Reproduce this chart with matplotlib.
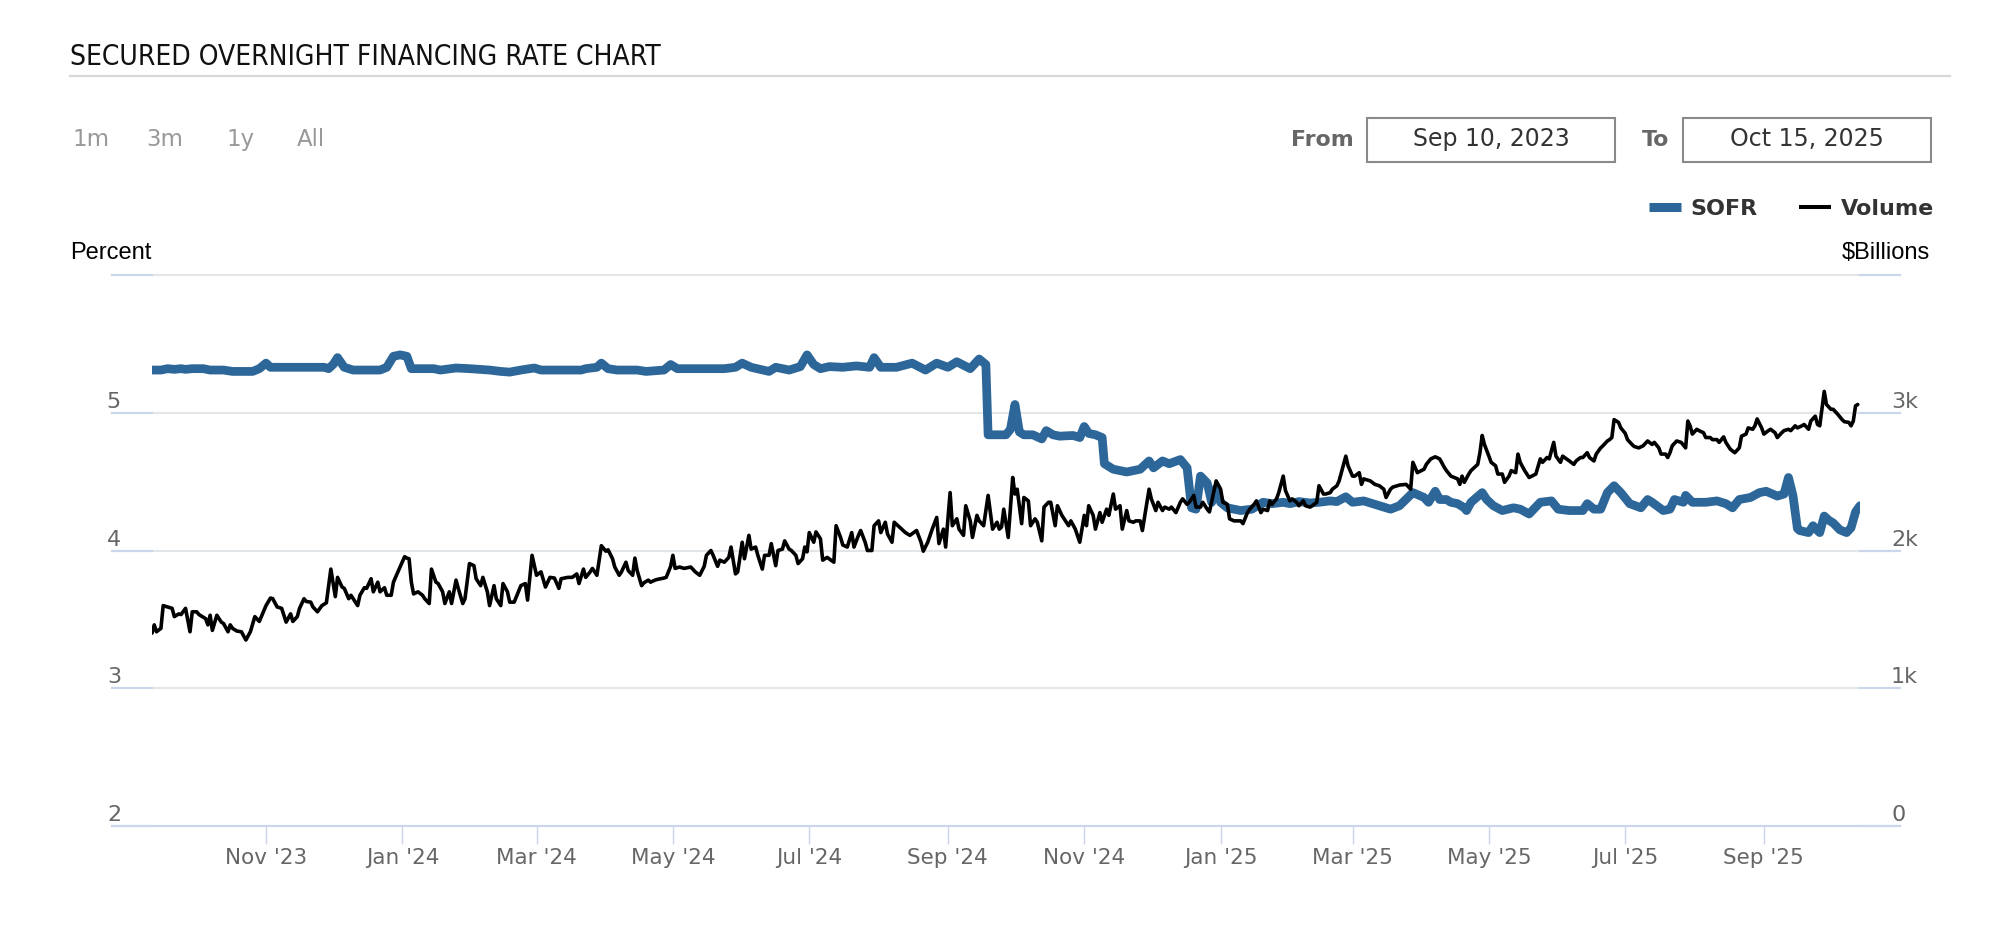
import datetime as dt
import matplotlib
matplotlib.use("Agg")
import matplotlib.pyplot as plt
import matplotlib.dates as mdates
from matplotlib import font_manager
from matplotlib.lines import Line2D
from matplotlib.patches import Rectangle
from matplotlib.transforms import offset_copy

# ---------------- data ----------------
start_date = dt.datetime(2023, 9, 11)
end_offset = 764  # days shown after start_date

title_text = "SECURED OVERNIGHT FINANCING RATE CHART"
range_buttons = ["1m", "3m", "1y", "All"]
from_date = "Sep 10, 2023"
to_date = "Oct 15, 2025"
series_names = ["SOFR", "Volume"]
left_unit = "Percent"
right_unit = "$Billions"

left_ticks = [2, 3, 4, 5]
left_tick_labels = ["2", "3", "4", "5"]
left_grid = [2, 3, 4, 5, 6]
right_ticks = [0, 1000, 2000, 3000]
right_tick_labels = ["0", "1k", "2k", "3k"]

# SOFR (percent): day offset from start_date, value
sofr_day = [0, 4, 7, 10, 13, 15, 18, 23, 26, 32, 36, 45, 48, 51, 53, 62, 77, 79, 81, 83,
            86, 90, 102, 105, 108, 111, 114, 116, 126, 129, 136, 142, 151, 156, 160, 165,
            171, 174, 192, 194, 199, 201, 204, 208, 217, 221, 229, 232, 235, 256, 261, 264,
            268, 276, 279, 282, 285, 290, 293, 296, 299, 303, 309, 315, 321, 323, 326, 333,
            340, 346, 351, 356, 360, 366, 370, 373, 374, 379, 382, 384, 386, 388, 390, 394,
            398, 400, 403, 406, 412, 415, 417, 419, 422, 425, 426, 430, 436, 442, 446, 448,
            452, 455, 460, 463, 465, 467, 469, 472, 474, 476, 478, 481, 484, 487, 492, 497,
            501, 506, 509, 513, 518, 522, 527, 530, 534, 537, 542, 549, 554, 558, 564, 569,
            571, 574, 576, 579, 581, 584, 587, 588, 590, 595, 597, 600, 604, 609, 612, 616,
            621, 626, 629, 634, 640, 642, 645, 648, 651, 654, 657, 661, 666, 669, 671, 676,
            679, 681, 685, 686, 689, 695, 700, 704, 707, 710, 715, 719, 722, 727, 730, 732,
            734, 736, 737, 741, 743, 744, 746, 748, 750, 752, 755, 758, 760, 762, 764]
sofr_pct = [5.31, 5.31, 5.32, 5.315, 5.32, 5.315, 5.32, 5.32, 5.31, 5.31, 5.30, 5.30, 5.32,
            5.36, 5.33, 5.33, 5.33, 5.32, 5.35, 5.40, 5.33, 5.31, 5.31, 5.33, 5.41, 5.42,
            5.41, 5.32, 5.32, 5.31, 5.325, 5.32, 5.31, 5.30, 5.295, 5.31, 5.325, 5.31, 5.31,
            5.32, 5.33, 5.36, 5.32, 5.31, 5.31, 5.30, 5.31, 5.35, 5.32, 5.32, 5.33, 5.36,
            5.33, 5.30, 5.33, 5.32, 5.31, 5.335, 5.42, 5.35, 5.32, 5.335, 5.33, 5.34, 5.33,
            5.40, 5.33, 5.33, 5.36, 5.31, 5.36, 5.33, 5.37, 5.32, 5.39, 5.35, 4.84, 4.84,
            4.84, 4.88, 5.06, 4.86, 4.84, 4.84, 4.81, 4.87, 4.84, 4.83, 4.835, 4.82, 4.90,
            4.85, 4.84, 4.82, 4.63, 4.59, 4.57, 4.59, 4.65, 4.60, 4.65, 4.63, 4.66, 4.60,
            4.31, 4.30, 4.54, 4.49, 4.35, 4.45, 4.35, 4.31, 4.30, 4.29, 4.30, 4.35, 4.34,
            4.35, 4.34, 4.355, 4.345, 4.35, 4.36, 4.355, 4.39, 4.35, 4.36, 4.325, 4.30,
            4.325, 4.42, 4.385, 4.35, 4.43, 4.37, 4.37, 4.35, 4.34, 4.31, 4.29, 4.35, 4.42,
            4.37, 4.325, 4.29, 4.31, 4.30, 4.265, 4.35, 4.36, 4.30, 4.29, 4.29, 4.34, 4.30,
            4.30, 4.42, 4.47, 4.42, 4.34, 4.31, 4.37, 4.35, 4.29, 4.30, 4.37, 4.35, 4.40,
            4.35, 4.35, 4.36, 4.34, 4.31, 4.37, 4.385, 4.42, 4.43, 4.395, 4.41, 4.53, 4.40,
            4.16, 4.145, 4.13, 4.18, 4.16, 4.13, 4.25, 4.22, 4.20, 4.15, 4.13, 4.165, 4.28,
            4.325]

# Volume ($ billions): day offset from start_date, value
vol_day = [0, 1, 2, 4, 5, 7, 9, 10, 12, 13, 15, 17, 18, 20, 21, 24, 25, 26, 27, 29, 31, 32,
           34, 35, 36, 38, 40, 42, 44, 46, 48, 51, 53, 54, 56, 58, 60, 62, 63, 65, 66, 68,
           69, 71, 72, 74, 76, 78, 80, 82, 83, 85, 86, 88, 89, 92, 93, 95, 96, 98, 99, 101,
           102, 104, 105, 107, 108, 110, 113, 114, 115, 116, 117, 119, 121, 122, 124, 125,
           127, 128, 130, 131, 133, 134, 136, 137, 139, 140, 142, 144, 145, 147, 148, 150,
           151, 153, 154, 156, 157, 159, 160, 162, 165, 167, 168, 170, 172, 174, 176, 178,
           180, 182, 183, 186, 188, 190, 191, 193, 194, 196, 197, 199, 201, 203, 204, 206,
           207, 209, 210, 212, 213, 215, 216, 217, 219, 220, 222, 223, 225, 226, 229, 230,
           232, 233, 234, 236, 238, 241, 243, 245, 247, 248, 250, 251, 253, 254, 256, 258,
           259, 261, 262, 264, 265, 267, 268, 270, 271, 273, 274, 276, 277, 279, 280, 282,
           283, 285, 286, 288, 289, 291, 292, 293, 294, 296, 297, 299, 300, 302, 305, 306,
           308, 309, 311, 313, 314, 316, 317, 319, 320, 322, 323, 325, 326, 328, 329, 331,
           332, 334, 337, 339, 342, 344, 345, 347, 349, 351, 352, 354, 355, 357, 358, 360,
           361, 363, 364, 366, 367, 369, 370, 372, 374, 376, 378, 379, 380, 381, 383, 385,
           386, 387, 389, 390, 392, 393, 395, 396, 398, 399, 401, 402, 404, 405, 407, 408,
           410, 411, 413, 415, 417, 418, 419, 421, 422, 424, 425, 427, 428, 430, 431, 433,
           434, 436, 437, 439, 440, 442, 443, 446, 447, 449, 450, 452, 453, 455, 456, 458,
           460, 461, 463, 464, 466, 467, 469, 470, 472, 473, 476, 478, 479, 481, 482, 484,
           485, 487, 488, 490, 491, 493, 494, 496, 497, 499, 500, 501, 503, 504, 506, 507,
           509, 510, 512, 513, 515, 516, 518, 519, 521, 522, 524, 525, 527, 528, 530, 531,
           534, 535, 537, 538, 540, 541, 542, 545, 547, 549, 551, 552, 554, 555, 558, 561,
           563, 564, 566, 569, 570, 572, 574, 576, 578, 579, 581, 584, 585, 586, 587, 589,
           590, 593, 594, 595, 596, 598, 599, 601, 602, 604, 605, 607, 608, 610, 611, 612,
           614, 616, 619, 621, 622, 624, 625, 627, 628, 630, 631, 634, 636, 637, 639, 640,
           642, 643, 645, 646, 648, 649, 651, 652, 653, 654, 656, 657, 659, 660, 662, 663,
           665, 667, 669, 671, 672, 674, 675, 677, 678, 679, 680, 682, 684, 686, 687, 688,
           689, 691, 692, 694, 695, 697, 698, 700, 701, 703, 704, 706, 708, 710, 711, 713,
           714, 716, 717, 718, 720, 721, 723, 724, 726, 727, 729, 730, 732, 733, 735, 736,
           738, 739, 741, 742, 744, 745, 746, 748, 749, 751, 752, 754, 756, 757, 759, 760,
           761, 762, 763]
vol_bn = [1400, 1460, 1410, 1435, 1600, 1590, 1580, 1520, 1540, 1535, 1580, 1410, 1555, 1555,
          1535, 1505, 1460, 1530, 1420, 1530, 1480, 1470, 1410, 1460, 1435, 1415, 1410, 1350,
          1410, 1520, 1485, 1600, 1655, 1650, 1590, 1580, 1480, 1540, 1485, 1520, 1580, 1650,
          1630, 1625, 1590, 1555, 1600, 1620, 1865, 1665, 1805, 1735, 1725, 1650, 1675, 1600,
          1675, 1730, 1725, 1795, 1700, 1770, 1700, 1730, 1675, 1675, 1770, 1845, 1955, 1945,
          1940, 1770, 1685, 1700, 1675, 1650, 1615, 1865, 1770, 1760, 1700, 1615, 1700, 1615,
          1785, 1725, 1615, 1650, 1905, 1890, 1795, 1745, 1805, 1700, 1600, 1745, 1650, 1600,
          1760, 1700, 1625, 1625, 1745, 1760, 1640, 1965, 1820, 1845, 1735, 1805, 1800, 1725,
          1795, 1805, 1805, 1830, 1760, 1865, 1805, 1845, 1870, 1820, 2035, 1995, 2005, 1940,
          1880, 1820, 1845, 1915, 1855, 1820, 1945, 1855, 1745, 1765, 1785, 1770, 1785, 1790,
          1800, 1805, 1885, 1965, 1870, 1880, 1870, 1880, 1845, 1820, 1885, 1965, 2000, 1965,
          1885, 1930, 1915, 1950, 2025, 1830, 1845, 2060, 1940, 2110, 2010, 2025, 1965, 1865,
          1965, 1965, 2050, 1890, 2000, 2010, 2070, 2010, 2000, 1965, 1905, 1940, 2025, 1990,
          2130, 2060, 2135, 2085, 1930, 1950, 1915, 2180, 2095, 2040, 2025, 2130, 2025, 2110,
          2145, 2060, 2000, 2000, 2180, 2215, 2130, 2205, 2120, 2060, 2205, 2175, 2130, 2110,
          2145, 2060, 1995, 2060, 2155, 2240, 2050, 2155, 2025, 2420, 2180, 2230, 2155, 2110,
          2325, 2215, 2095, 2255, 2215, 2180, 2400, 2155, 2205, 2155, 2170, 2300, 2095, 2530,
          2410, 2445, 2195, 2385, 2360, 2180, 2230, 2205, 2070, 2315, 2350, 2350, 2180, 2325,
          2255, 2230, 2180, 2215, 2155, 2060, 2255, 2180, 2325, 2255, 2155, 2275, 2205, 2300,
          2255, 2410, 2300, 2325, 2155, 2290, 2215, 2205, 2215, 2215, 2145, 2445, 2375, 2290,
          2350, 2290, 2315, 2300, 2315, 2275, 2350, 2375, 2335, 2350, 2400, 2315, 2315, 2350,
          2300, 2280, 2505, 2445, 2350, 2335, 2230, 2215, 2215, 2215, 2195, 2275, 2300, 2335,
          2360, 2275, 2300, 2290, 2360, 2335, 2375, 2420, 2540, 2435, 2360, 2375, 2350, 2325,
          2360, 2325, 2315, 2325, 2350, 2470, 2410, 2410, 2420, 2445, 2470, 2505, 2685, 2615,
          2540, 2540, 2565, 2480, 2520, 2505, 2480, 2470, 2445, 2385, 2445, 2460, 2475, 2480,
          2445, 2640, 2565, 2590, 2625, 2665, 2680, 2665, 2605, 2580, 2540, 2520, 2480, 2540,
          2495, 2555, 2580, 2625, 2710, 2835, 2770, 2685, 2640, 2615, 2555, 2555, 2495, 2540,
          2580, 2565, 2700, 2640, 2580, 2530, 2555, 2665, 2640, 2675, 2665, 2785, 2685, 2640,
          2685, 2650, 2625, 2650, 2675, 2675, 2710, 2675, 2650, 2700, 2745, 2760, 2795, 2805,
          2820, 2950, 2930, 2890, 2850, 2805, 2770, 2755, 2745, 2760, 2795, 2770, 2785, 2745,
          2700, 2700, 2675, 2710, 2760, 2795, 2785, 2745, 2940, 2905, 2845, 2880, 2870, 2855,
          2820, 2820, 2805, 2805, 2785, 2825, 2785, 2735, 2710, 2745, 2830, 2845, 2890, 2880,
          2905, 2955, 2890, 2845, 2870, 2880, 2855, 2820, 2855, 2870, 2880, 2870, 2905, 2890,
          2905, 2915, 2880, 2940, 2975, 2915, 2905, 3155, 3060, 3025, 3025, 2990, 2950, 2935,
          2930, 2905, 2940, 3050, 3060]

# ---------------- styling / layout ----------------
W, H = 1992, 943
SOFR_COLOR = "#2d6799"
GRID_COLOR = "#e3e6e9"
TICK_COLOR = "#ccd6eb"
LABEL_GRAY = "#666666"


def fx(px):
    return px / W


def fy(py):
    return 1 - py / H


def has_font(name):
    try:
        font_manager.findfont(name, fallback_to_default=False)
        return True
    except Exception:
        return False


arial_like = "Liberation Sans" if has_font("Liberation Sans") else "DejaVu Sans"
narrow = None
for cand in ["Liberation Sans Narrow", "DejaVu Sans Condensed"]:
    if has_font(cand):
        narrow = cand
        break

plt.rcParams["font.family"] = ["DejaVu Sans"]

fig = plt.figure(figsize=(W / 100, H / 100), dpi=100, facecolor="white")

PL, PR, PT, PB = 152, 1860, 275, 826
ax = fig.add_axes([fx(PL), fy(PB), (PR - PL) / W, (PB - PT) / H])
ax.set_facecolor("none")
ax2 = ax.twinx()

sofr_x = [start_date + dt.timedelta(days=d) for d in sofr_day]
vol_x = [start_date + dt.timedelta(days=d) for d in vol_day]

ax.plot(sofr_x, sofr_pct, color=SOFR_COLOR, lw=6.3, solid_joinstyle="round",
        solid_capstyle="round", zorder=3)
ax2.plot(vol_x, vol_bn, color="black", lw=2.6, solid_joinstyle="round",
         solid_capstyle="round", zorder=3)

ax.set_xlim(start_date, start_date + dt.timedelta(days=end_offset))
ax.set_ylim(left_grid[0], left_grid[-1])
ax2.set_ylim(0, 4000)

for a in (ax, ax2):
    for s in a.spines.values():
        s.set_visible(False)
    a.set_yticks([])

ext = 40 / (PR - PL)
for v in left_grid:
    ax.axhline(v, xmin=-ext, xmax=1 + ext, color=GRID_COLOR, lw=1.5, clip_on=False, zorder=1)
    ax.axhline(v, xmin=-ext, xmax=0, color=TICK_COLOR, lw=1.5, clip_on=False, zorder=1.1)
    ax.axhline(v, xmin=1, xmax=1 + ext, color=TICK_COLOR, lw=1.5, clip_on=False, zorder=1.1)
ax.axhline(left_grid[0], xmin=-ext, xmax=1 + ext, color=TICK_COLOR, lw=1.5,
           clip_on=False, zorder=1.2)

ltrans = offset_copy(ax.get_yaxis_transform(), fig=fig, x=0, y=5, units="dots")
for v, s in zip(left_ticks, left_tick_labels):
    ax.text(-31 / (PR - PL), v, s, transform=ltrans, ha="right", va="baseline",
            fontsize=16, color=LABEL_GRAY)
rtrans = offset_copy(ax2.get_yaxis_transform(), fig=fig, x=0, y=5, units="dots")
for v, s in zip(right_ticks, right_tick_labels):
    ax2.text(1 + 31 / (PR - PL), v, s, transform=rtrans, ha="left", va="baseline",
             fontsize=16, color=LABEL_GRAY)

ax.xaxis.set_major_locator(mdates.MonthLocator(bymonth=[1, 3, 5, 7, 9, 11]))
ax.xaxis.set_major_formatter(mdates.DateFormatter("%b '%y"))
ax.tick_params(axis="x", length=13, width=1.0, color=TICK_COLOR, pad=3,
               labelsize=15.5, labelcolor=LABEL_GRAY, direction="out")

# ---------------- header ----------------
if narrow:
    title = fig.text(fx(70), fy(65), title_text, fontsize=23, family=narrow,
                     color="#111111", va="baseline")
else:
    title = fig.text(fx(70), fy(65), title_text, fontsize=23, color="#111111",
                     va="baseline", fontstretch="condensed")
fig.canvas.draw()
tw = title.get_window_extent().width
title.set_fontsize(23 * 594 / tw)

fig.add_artist(Line2D([fx(70), fx(1950)], [fy(76), fy(76)], color="#d9d9d9", lw=1.6))

for lbl, xp in zip(range_buttons, [72, 146, 226, 297]):
    fig.text(fx(xp), fy(146), lbl, fontsize=16.5, color="#999999", va="baseline")

fig.text(fx(1354), fy(146), "From", ha="right", va="baseline", fontsize=15.8,
         weight="bold", color=LABEL_GRAY)
fig.add_artist(Rectangle((fx(1367), fy(162)), (1615 - 1367) / W, (162 - 118) / H,
                         fill=False, ec="#8a8a8a", lw=1.5, transform=fig.transFigure))
fig.text(fx(1491), fy(146), from_date, ha="center", va="baseline", fontsize=17,
         color="#333333")
fig.text(fx(1669), fy(146), "To", ha="right", va="baseline", fontsize=15.8,
         weight="bold", color=LABEL_GRAY)
fig.add_artist(Rectangle((fx(1683), fy(162)), (1931 - 1683) / W, (162 - 118) / H,
                         fill=False, ec="#8a8a8a", lw=1.5, transform=fig.transFigure))
fig.text(fx(1807), fy(146), to_date, ha="center", va="baseline", fontsize=17,
         color="#333333")

handles = [Line2D([], [], color=SOFR_COLOR, lw=6.5, solid_capstyle="butt"),
           Line2D([], [], color="black", lw=2.9, solid_capstyle="butt")]
fig.legend(handles=handles, labels=series_names, loc="center right",
           bbox_to_anchor=(fx(1934), fy(209)), ncol=2, frameon=False,
           prop={"weight": "bold", "size": 16}, handlelength=1.44, handletextpad=0.45,
           columnspacing=1.85, borderpad=0, borderaxespad=0, labelcolor="#333333")

fig.text(fx(70), fy(259), left_unit, fontsize=17, family=arial_like, color="black",
         va="baseline")
fig.text(fx(1930), fy(259), right_unit, fontsize=17, family=arial_like, color="black",
         va="baseline", ha="right", parse_math=False)

fig.savefig("out.png", dpi=100, facecolor="white")
